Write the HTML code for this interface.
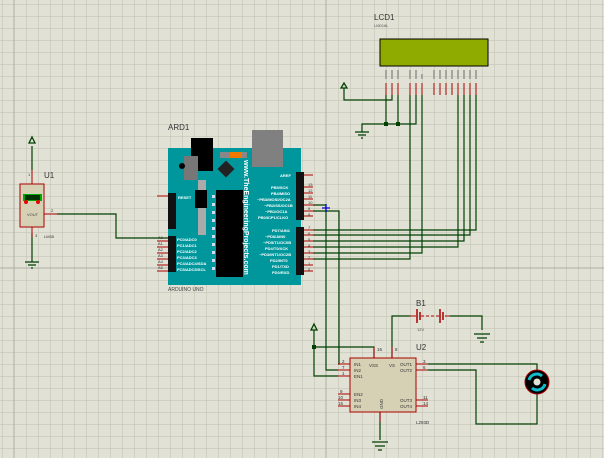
<!DOCTYPE html>
<html><head><style>body{margin:0;background:#e1e1d5}svg{display:block}text{font-family:"Liberation Sans",sans-serif}</style></head><body>
<svg width="604" height="458" viewBox="0 0 604 458" xmlns="http://www.w3.org/2000/svg">
<defs><pattern id="g" width="12" height="12" patternUnits="userSpaceOnUse" x="2" y="4"><path d="M0 0H12M0 0V12" stroke="#bdbdb0" stroke-width="1" fill="none"/></pattern></defs>
<rect width="604" height="458" fill="#e1e1d5"/>
<rect width="604" height="458" fill="url(#g)"/>
<line x1="326" y1="0" x2="326" y2="458" stroke="#aeaea2"/>
<line x1="0" y1="268" x2="604" y2="268" stroke="#aeaea2"/>
<line x1="14" y1="0" x2="14" y2="458" stroke="#aeaea2"/>

<!-- LCD -->
<text x="374" y="20" font-size="8" fill="#333">LCD1</text>
<text x="374" y="27" font-size="4" fill="#555">LM016L</text>
<rect x="380" y="39" width="108" height="27" fill="#90ab00" stroke="#000" stroke-width="1"/>
<g stroke="#a00" stroke-width="1">
<path d="M386 83V95M392 83V95M398 83V95M410 83V95M416 83V95M422 83V95M434 83V95M440 83V95M446 83V95M452 83V95M458 83V95M464 83V95M470 83V95M476 83V95"/></g>
<g fill="#a5a5a0"><rect x="385" y="70" width="2" height="9"/><rect x="391" y="70" width="2" height="9"/><rect x="397" y="70" width="2" height="9"/><rect x="409" y="70" width="2" height="9"/><rect x="415" y="70" width="2" height="9"/><rect x="421" y="74" width="2" height="5"/><rect x="433" y="70" width="2" height="9"/><rect x="439" y="70" width="2" height="9"/><rect x="445" y="70" width="2" height="9"/><rect x="451" y="70" width="2" height="9"/><rect x="457" y="70" width="2" height="9"/><rect x="463" y="70" width="2" height="9"/><rect x="469" y="70" width="2" height="9"/><rect x="475" y="70" width="2" height="9"/></g>

<!-- wires -->
<g stroke="#004000" stroke-width="1.2" fill="none">
<path d="M386 95V124M398 95V124M416 95V124H362V132"/>
<path d="M392 95V100H344V88"/>
<path d="M410 95V259H313M422 95V253H313M458 95V247H313M464 95V241H313M470 95V235H313M476 95V230H313"/>
<path d="M313 205H326V370H338M313 211H339V364H338"/>
<path d="M314 330V347H374V358M314 347V376H338"/>
<path d="M392 358V316H410M450 316H482V330"/>
<path d="M428 364H537V370M428 370H476V424H537V394"/>
<path d="M380 412V440"/>
<path d="M32 146V170M32 233V262"/>
<path d="M57 214H116V238H170"/>
</g>
<g fill="#004000"><rect x="384" y="122" width="4" height="4"/><rect x="396" y="122" width="4" height="4"/><rect x="312" y="345" width="4" height="4"/></g>
<g stroke="#004000" stroke-width="1.2"><path d="M355 132H369M358 135H366M361 138H363"/><path d="M474 334H490M477 338H487M480 342H484"/><path d="M372 442H388M375 446H385M378 450H382"/><path d="M25 262H39M28 265H36M31 268H33"/></g>
<g fill="none" stroke="#004000" stroke-width="1.3"><path d="M341 88H347L344 83Z"/><path d="M311 330H317L314 324Z"/><path d="M29 143H35L32 137Z"/></g>
<g stroke="#00c" stroke-width="1.2"><path d="M322 208H330M326 204V212"/></g>

<!-- Arduino -->
<text x="168" y="130" font-size="8" fill="#333">ARD1</text>
<rect x="168" y="148" width="133" height="137" fill="#00979c"/>
<rect x="191" y="138" width="22" height="33" fill="#000"/>
<rect x="252" y="130" width="31" height="37" fill="#808080"/>
<rect x="220" y="152" width="27" height="6" fill="#888"/><rect x="230" y="152" width="12" height="6" fill="#f07800"/>
<rect x="184" y="156" width="14" height="24" fill="#777"/><circle cx="182" cy="166" r="3" fill="#000"/>
<rect x="220" y="163" width="12" height="12" fill="#222" transform="rotate(45 226 169)"/>
<rect x="198" y="180" width="8" height="55" fill="#aaa"/><rect x="195" y="190" width="12" height="18" fill="#000"/>
<rect x="216" y="190" width="27" height="87" fill="#000"/>
<g fill="#cde"><rect x="212" y="195" width="3" height="3"/><rect x="212" y="203" width="3" height="3"/><rect x="212" y="211" width="3" height="3"/><rect x="212" y="219" width="3" height="3"/><rect x="212" y="227" width="3" height="3"/><rect x="212" y="235" width="3" height="3"/><rect x="212" y="243" width="3" height="3"/><rect x="212" y="251" width="3" height="3"/><rect x="212" y="259" width="3" height="3"/><rect x="212" y="267" width="3" height="3"/></g>
<text x="0" y="0" font-size="7" font-weight="bold" fill="#fff" transform="translate(244 160) rotate(90)">www.TheEngineeringProjects.com</text>
<g font-size="4" fill="#fff" font-weight="bold"><text x="178" y="199">RESET</text>
<text x="177" y="241">PC0/ADC0</text><text x="177" y="247">PC1/ADC1</text><text x="177" y="253">PC2/ADC2</text><text x="177" y="259">PC3/ADC3</text><text x="177" y="265">PC4/ADC4/SDA</text><text x="177" y="271">PC5/ADC5/SCL</text>
<text x="280" y="177">AREF</text><text x="271" y="189">PB5/SCK</text><text x="271" y="195">PB4/MISO</text><text x="257" y="201">~PB3/MOSI/OC2A</text><text x="264" y="207">~PB2/SS/OC1B</text><text x="265" y="213">~PB1/OC1A</text><text x="258" y="219">PB0/ICP1/CLKO</text>
<text x="272" y="232">PD7/AIN1</text><text x="265" y="238">~PD6/AIN0</text><text x="263" y="244">~PD5/T1/OC0B</text><text x="265" y="250">PD4/T0/XCK</text><text x="259" y="256">~PD3/INT1/OC2B</text><text x="270" y="262">PD2/INT0</text><text x="272" y="268">PD1/TXD</text><text x="272" y="274">PD0/RXD</text></g>
<rect x="168" y="193" width="8" height="36" fill="#111"/><rect x="168" y="236" width="8" height="36" fill="#111"/>
<rect x="296" y="172" width="8" height="48" fill="#111"/><rect x="296" y="227" width="8" height="48" fill="#111"/>
<g stroke="#a00"><path d="M157 196H168M157 241H168M157 247H168M157 253H168M157 259H168M157 265H168M157 271H168"/><path d="M304 175H313M304 187H313M304 193H313M304 199H313M304 205H313M304 211H313M304 216H313M304 230H313M304 235H313M304 241H313M304 247H313M304 253H313M304 259H313M304 265H313M304 271H313"/></g>
<g font-size="4" fill="#333"><text x="158" y="239">A0</text><text x="158" y="245">A1</text><text x="158" y="251">A2</text><text x="158" y="257">A3</text><text x="158" y="263">A4</text><text x="158" y="269">A5</text>
<text x="308" y="186">13</text><text x="308" y="192">12</text><text x="308" y="198">11</text><text x="308" y="204">10</text><text x="308" y="210">9</text><text x="308" y="216">8</text><text x="308" y="229">7</text><text x="308" y="235">6</text><text x="308" y="241">5</text><text x="308" y="247">4</text><text x="308" y="253">3</text><text x="308" y="259">2</text><text x="308" y="265">1</text><text x="308" y="271">0</text></g>
<text x="168" y="291" font-size="5" fill="#444">ARDUINO UNO</text>

<!-- U1 LM35 -->
<text x="44" y="178" font-size="8" fill="#333">U1</text>
<rect x="20" y="184" width="24" height="43" fill="#d6d1b4" stroke="#a00"/>
<rect x="23" y="194" width="19" height="7" fill="#0a0"/><rect x="25" y="195" width="15" height="5" fill="#030"/>
<circle cx="26" cy="202" r="2" fill="#e00"/><circle cx="38" cy="202" r="2" fill="#e00"/>
<text x="27" y="216" font-size="4" fill="#444">VOUT</text>
<g stroke="#a00"><path d="M32 170V184M32 227V237M44 214H57"/></g>
<g font-size="4" fill="#333"><text x="28" y="176">1</text><text x="51" y="212">2</text><text x="35" y="237">3</text><text x="44" y="238">LM35</text></g>

<!-- Battery -->
<text x="416" y="306" font-size="8" fill="#333">B1</text>
<g stroke="#a00" stroke-width="1"><path d="M410 316H416M445 316H450"/><path d="M417 309V323M420 312V320M440 309V323M443 312V320" stroke-width="1.5"/><path d="M421 316H439" stroke-dasharray="3 2"/></g>
<text x="417" y="331" font-size="4" fill="#555">12V</text>

<!-- U2 -->
<text x="416" y="350" font-size="8" fill="#333">U2</text>
<rect x="350" y="358" width="66" height="54" fill="#d6d1b4" stroke="#a00"/>
<g stroke="#a00"><path d="M338 364H350M338 370H350M338 376H350M338 394H350M338 400H350M338 406H350M416 364H428M416 370H428M416 400H428M416 406H428M374 347V358M392 347V358M380 412V422"/></g>
<g font-size="4.5" fill="#333"><text x="354" y="366">IN1</text><text x="354" y="372">IN2</text><text x="354" y="378">EN1</text><text x="354" y="396">EN2</text><text x="354" y="402">IN3</text><text x="354" y="408">IN4</text>
<text x="369" y="367">VSS</text><text x="389" y="367">VS</text>
<text x="400" y="366">OUT1</text><text x="400" y="372">OUT2</text><text x="400" y="402">OUT3</text><text x="400" y="408">OUT4</text>
<text x="0" y="0" transform="translate(383 409) rotate(-90)">GND</text>
<text x="342" y="363">2</text><text x="342" y="369">7</text><text x="342" y="375">1</text><text x="340" y="393">9</text><text x="338" y="399">10</text><text x="338" y="405">15</text>
<text x="377" y="351">16</text><text x="395" y="351">8</text><text x="423" y="363">3</text><text x="423" y="369">6</text><text x="423" y="399">11</text><text x="423" y="405">14</text>
<text x="416" y="424">L293D</text></g>

<!-- Motor -->
<circle cx="537" cy="382" r="12" fill="#000" stroke="#a00" stroke-width="1"/>
<path d="M529 380A8 8 0 0 1 542 376M545 384A8 8 0 0 1 532 388" stroke="#1bc" stroke-width="3" fill="none"/>
<circle cx="537" cy="382" r="3.5" fill="#e1e1d5"/>
</svg>
</body></html>
